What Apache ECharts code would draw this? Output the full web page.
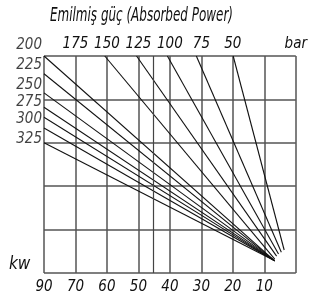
<!DOCTYPE html>
<html>
<head>
<meta charset="utf-8">
<script src="https://cdn.jsdelivr.net/npm/echarts@6/dist/echarts.min.js"></script>
<style>
  html, body { margin: 0; padding: 0; background: #fff; }
  #chart { width: 310px; height: 299px; }
</style>
</head>
<body>
<div id="chart"></div>
<script>
// tick labels
const bottomTicks = ['90', '70', '60', '50', '40', '30', '20', '10', ''];
const topTicks = ['', '175', '150', '125', '100', '75', '50', '', 'bar'];
const leftTicks = ['200', '225', '250', '275', '300', '325'];
const leftTickY = [5.25, 4.79, 4.33, 3.94, 3.55, 3.09];

// lines starting on the left edge (x = 0)
const leftStartY = [5.0, 4.59, 4.15, 3.82, 3.59, 3.34, 3.0];
const leftEnd = [7.33, 0.28];

// lines starting on the top edge (y = 5)
const topStartX = [1.93, 2.94, 3.92, 4.84, 6.01];
const topEndX = [7.33, 7.39, 7.45, 7.54, 7.63];
const topEndY = [0.32, 0.39, 0.44, 0.48, 0.53];

// extra grid line between 50 and 40
const extraGridX = 3.46;

const FONT = "'Liberation Sans Narrow', 'DejaVu Sans Condensed', sans-serif";

const chart = echarts.init(document.getElementById('chart'));

const lineStyle = { color: '#111', width: 1.1 };
const series = [];

leftStartY.forEach(y0 => {
    series.push({
        type: 'line',
        symbol: 'none',
        silent: true,
        lineStyle: lineStyle,
        data: [[0, y0], leftEnd]
    });
});

topStartX.forEach((x0, i) => {
    series.push({
        type: 'line',
        symbol: 'none',
        silent: true,
        lineStyle: lineStyle,
        data: [[x0, 5], [topEndX[i], topEndY[i]]]
    });
});

// left labels
series.push({
    type: 'scatter',
    symbolSize: 0,
    clip: false,
    silent: true,
    data: leftTicks.map((t, i) => ({ value: [0, leftTickY[i]], name: t })),
    label: {
        show: true,
        position: 'left',
        distance: 2,
        formatter: '{b}',
        color: '#111',
        fontSize: 15,
        fontStyle: 'italic',
        fontFamily: FONT
    },
    markLine: {
        silent: true,
        symbol: 'none',
        label: { show: false },
        lineStyle: { color: '#444', width: 1.2, type: 'solid' },
        data: [{ xAxis: extraGridX }]
    }
});

chart.setOption({
    animation: false,
    grid: { left: 44, right: 5, top: 56, bottom: 26 },
    xAxis: [
        {
            type: 'value',
            min: 0,
            max: 8,
            interval: 1,
            position: 'bottom',
            axisLine: { show: false },
            axisTick: { show: false },
            splitLine: { show: true, lineStyle: { color: '#555', width: 1.5 } },
            axisLabel: {
                margin: 7,
                color: '#111',
                fontSize: 15,
                fontStyle: 'italic',
                fontFamily: FONT,
                formatter: v => bottomTicks[Math.round(v)] || ''
            }
        },
        {
            type: 'value',
            min: 0,
            max: 8,
            interval: 1,
            position: 'top',
            axisLine: { show: false },
            axisTick: { show: false },
            splitLine: { show: false },
            axisLabel: {
                margin: 4,
                color: '#111',
                fontSize: 15,
                fontStyle: 'italic',
                fontFamily: FONT,
                formatter: v => topTicks[Math.round(v)] || ''
            }
        }
    ],
    yAxis: {
        type: 'value',
        min: 0,
        max: 5,
        interval: 1,
        axisLine: { show: false },
        axisTick: { show: false },
        axisLabel: { show: false },
        splitLine: { show: true, lineStyle: { color: '#555', width: 1.5 } }
    },
    graphic: [
        {
            type: 'text',
            x: 50,
            y: 7,
            scaleX: 0.7,
            style: {
                text: 'Emilmiş güç (Absorbed Power)',
                fill: '#111',
                font: 'italic 19px ' + FONT
            }
        },
        {
            type: 'text',
            left: 9,
            top: 256,
            style: {
                text: 'kw',
                fill: '#111',
                font: 'italic 17px ' + FONT
            }
        }
    ],
    series: series
});
</script>
</body>
</html>
